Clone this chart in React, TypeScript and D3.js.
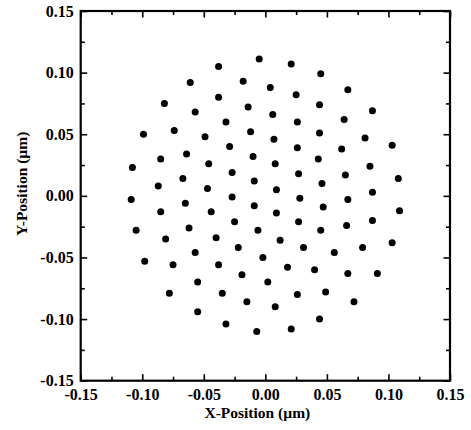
import React, { useRef, useEffect } from 'react';
import * as d3 from 'd3';

// dot positions (x, y) in µm
const positions: [number, number][] = [
  [-0.005, 0.111], [-0.038, 0.105], [0.021, 0.107], [0.045, 0.099],
  [-0.061, 0.092], [-0.018, 0.093], [0.004, 0.088], [0.025, 0.082], [0.067, 0.086],
  [-0.082, 0.075], [-0.038, 0.080], [-0.014, 0.072], [0.006, 0.066], [0.044, 0.074],
  [0.026, 0.060], [0.087, 0.069], [0.064, 0.062], [-0.057, 0.068], [-0.032, 0.060],
  [-0.099, 0.050], [-0.074, 0.053], [-0.049, 0.048], [-0.012, 0.052], [0.007, 0.046],
  [0.044, 0.051], [0.081, 0.047], [-0.029, 0.040], [0.026, 0.039], [0.062, 0.038],
  [0.103, 0.041], [-0.108, 0.023], [-0.085, 0.030], [-0.064, 0.034], [-0.046, 0.026],
  [-0.010, 0.032], [0.008, 0.026], [0.043, 0.030], [0.085, 0.024], [-0.027, 0.019],
  [0.027, 0.018], [0.065, 0.017], [0.108, 0.014], [-0.087, 0.008], [-0.067, 0.014],
  [-0.047, 0.006], [-0.009, 0.012], [0.009, 0.005], [0.046, 0.010], [0.087, 0.003],
  [-0.109, -0.003], [-0.027, -0.001], [0.028, -0.002], [0.067, -0.003], [-0.065, -0.006],
  [-0.009, -0.008], [0.047, -0.009], [0.109, -0.012], [-0.085, -0.013], [-0.044, -0.013],
  [0.009, -0.014], [-0.025, -0.021], [0.027, -0.021], [0.066, -0.024], [0.087, -0.020],
  [-0.105, -0.028], [-0.062, -0.026], [-0.006, -0.028], [0.045, -0.028], [-0.081, -0.035],
  [-0.040, -0.034], [0.012, -0.036], [-0.022, -0.042], [0.031, -0.042], [0.056, -0.046],
  [0.079, -0.042], [0.103, -0.038], [-0.057, -0.046], [-0.002, -0.050], [-0.098, -0.053],
  [-0.075, -0.056], [-0.038, -0.056], [-0.019, -0.064], [0.018, -0.058], [0.040, -0.060],
  [0.067, -0.063], [0.091, -0.063], [-0.055, -0.070], [0.002, -0.070], [-0.078, -0.079],
  [-0.035, -0.079], [0.026, -0.080], [0.049, -0.078], [-0.015, -0.086], [0.008, -0.090],
  [0.072, -0.086], [-0.055, -0.094], [0.044, -0.100], [-0.032, -0.104], [-0.007, -0.110],
  [0.021, -0.108],
];

const majorTicks = [-0.15, -0.1, -0.05, 0, 0.05, 0.1, 0.15];
const minorTicks = [-0.125, -0.075, -0.025, 0.025, 0.075, 0.125];
const xTitle = 'X-Position (\u00b5m)';
const yTitle = 'Y-Position (\u00b5m)';

export default function App() {
  const svgRef = useRef<SVGSVGElement>(null);

  useEffect(() => {
    if (!svgRef.current) return;
    const width = 471;
    const height = 430;
    const margin = { top: 11, right: 21, bottom: 49.3, left: 80.7 };
    const innerWidth = width - margin.left - margin.right;
    const innerHeight = height - margin.top - margin.bottom;
    const font = '"Liberation Serif", "Times New Roman", serif';

    const svg = d3.select(svgRef.current);
    svg.selectAll('*').remove();
    const g = svg.append('g').attr('transform', `translate(${margin.left},${margin.top})`);

    const x = d3.scaleLinear().domain([-0.15, 0.15]).range([0, innerWidth]);
    const y = d3.scaleLinear().domain([-0.15, 0.15]).range([innerHeight, 0]);
    const fmt = (d: number) => d3.format('.2f')(d).replace('\u2212', '-');

    const styleAxis = (sel: any) => {
      sel.select('.domain').remove();
      sel.selectAll('line').attr('stroke', '#000').attr('stroke-width', 1.6);
      sel.selectAll('text')
        .attr('font-family', font)
        .attr('font-weight', 'bold')
        .attr('font-size', '16px')
        .attr('fill', '#000');
    };

    // major + minor ticks on all four sides, pointing inward
    const addAxes = (values: number[], size: number, labels: boolean) => {
      const fmtL = labels ? fmt : () => '';
      g.append('g').attr('transform', `translate(0,${innerHeight})`)
        .call(d3.axisBottom(x).tickValues(values).tickSize(-size).tickPadding(8).tickFormat(fmtL as any))
        .call(styleAxis);
      g.append('g')
        .call(d3.axisTop(x).tickValues(values).tickSize(-size).tickFormat(() => ''))
        .call(styleAxis);
      g.append('g')
        .call(d3.axisLeft(y).tickValues(values).tickSize(-size).tickPadding(7).tickFormat(fmtL as any))
        .call(styleAxis);
      g.append('g').attr('transform', `translate(${innerWidth},0)`)
        .call(d3.axisRight(y).tickValues(values).tickSize(-size).tickFormat(() => ''))
        .call(styleAxis);
    };
    addAxes(majorTicks, 6.5, true);
    addAxes(minorTicks, 4, false);

    // frame
    g.append('rect')
      .attr('x', 0).attr('y', 0)
      .attr('width', innerWidth).attr('height', innerHeight)
      .attr('fill', 'none')
      .attr('stroke', '#000')
      .attr('stroke-width', 2.2);

    // dots
    g.selectAll('circle.dot')
      .data(positions)
      .join('circle')
      .attr('class', 'dot')
      .attr('cx', d => x(d[0]))
      .attr('cy', d => y(d[1]))
      .attr('r', 3.5)
      .attr('fill', '#000');

    // axis titles
    g.append('text')
      .attr('x', innerWidth / 2 - 8)
      .attr('y', innerHeight + 36.8)
      .attr('text-anchor', 'middle')
      .attr('font-family', font)
      .attr('font-weight', 'bold')
      .attr('font-size', '15.5px')
      .text(xTitle);

    g.append('text')
      .attr('transform', `translate(${-54},${innerHeight / 2 - 12}) rotate(-90)`)
      .attr('text-anchor', 'middle')
      .attr('font-family', font)
      .attr('font-weight', 'bold')
      .attr('font-size', '15.5px')
      .text(yTitle);
  }, []);

  return (
    <svg
      ref={svgRef}
      width={471}
      height={430}
      style={{ position: 'absolute', left: 0, top: 0, background: '#fff' }}
    />
  );
}
